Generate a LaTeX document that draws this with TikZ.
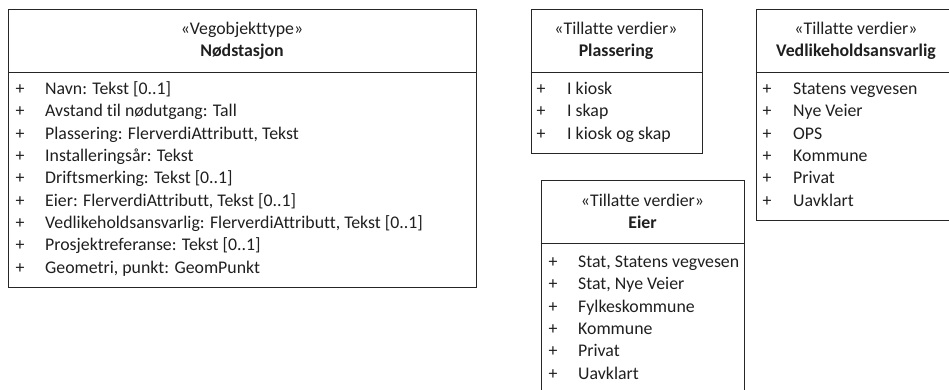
\documentclass[tikz,border=0pt]{standalone}
\usepackage{fontspec}
\setmainfont{Carlito}[Ligatures=NoCommon]
\begin{document}
\begin{tikzpicture}[x=1pt,y=-1pt,
  box/.style={draw=black!85, line width=0.9pt, rectangle, anchor=north west, inner sep=0pt},
  sep/.style={draw=black!85, line width=0.9pt},
  txt/.style={font=\fontsize{17.8}{20}\selectfont, text=black!88, inner sep=0pt, anchor=base west},
  ttl/.style={font=\fontsize{17.8}{20}\selectfont, text=black!88, inner sep=0pt, anchor=base},
  bttl/.style={ttl, font=\fontsize{17.8}{20}\selectfont\bfseries}]
\useasboundingbox (0,0) rectangle (949,389);

% Nodstasjon
\node[box, minimum width=468pt, minimum height=278pt] (n) at (8,9) {};
\draw[sep] ([yshift=-63pt]n.north west) -- ([yshift=-63pt]n.north east);
\node[ttl] (nst) at (242,34.5) {«Vegobjekttype»};
\node[bttl] (nnm) at (242,56.5) {Nødstasjon};
\foreach \t [count=\i] in {{Navn: Tekst [0..1]},{Avstand til nødutgang: Tall},{Plassering: FlerverdiAttributt, Tekst},{Installeringsår: Tekst},{Driftsmerking: Tekst [0..1]},{Eier: FlerverdiAttributt, Tekst [0..1]},{Vedlikeholdsansvarlig: FlerverdiAttributt, Tekst [0..1]},{Prosjektreferanse: Tekst [0..1]},{Geometri, punkt: GeomPunkt}}{
  \node[ttl] (np\i) at (20,{94.5+(\i-1)*22.35}) {+};
  \node[txt] (na\i) at (45,{94.5+(\i-1)*22.35}) {\t};
}

% Plassering
\node[box, minimum width=171pt, minimum height=144pt] (p) at (530.5,9) {};
\draw[sep] ([yshift=-63pt]p.north west) -- ([yshift=-63pt]p.north east);
\node[ttl] (pst) at (616,34.5) {«Tillatte verdier»};
\node[bttl] (pnm) at (616,56.5) {Plassering};
\foreach \t [count=\i] in {{I kiosk},{I skap},{I kiosk og skap}}{
  \node[ttl] (pp\i) at (541,{94.5+(\i-1)*22.35}) {+};
  \node[txt] (pa\i) at (567,{94.5+(\i-1)*22.35}) {\t};
}

% Vedlikeholdsansvarlig
\node[box, minimum width=200pt, minimum height=211.5pt] (v) at (755.5,8.5) {};
\draw[sep] ([yshift=-63.5pt]v.north west) -- ([yshift=-63.5pt]v.north east);
\node[ttl] (vst) at (856,34.5) {«Tillatte verdier»};
\node[bttl] (vnm) at (856,56.5) {Vedlikeholdsansvarlig};
\foreach \t [count=\i] in {{Statens vegvesen},{Nye Veier},{OPS},{Kommune},{Privat},{Uavklart}}{
  \node[ttl] (vp\i) at (767,{94.5+(\i-1)*22.35}) {+};
  \node[txt] (va\i) at (793,{94.5+(\i-1)*22.35}) {\t};
}

% Eier
\node[box, minimum width=203.5pt, minimum height=220pt] (e) at (540.7,180) {};
\draw[sep] ([yshift=-63pt]e.north west) -- ([yshift=-63pt]e.north east);
\node[ttl] (est) at (642.5,206.5) {«Tillatte verdier»};
\node[bttl] (enm) at (642.5,228.5) {Eier};
\foreach \t [count=\i] in {{Stat, Statens vegvesen},{Stat, Nye Veier},{Fylkeskommune},{Kommune},{Privat},{Uavklart}}{
  \node[ttl] (ep\i) at (553,{267.5+(\i-1)*22.3}) {+};
  \node[txt] (ea\i) at (578,{267.5+(\i-1)*22.3}) {\t};
}
\end{tikzpicture}
\end{document}
